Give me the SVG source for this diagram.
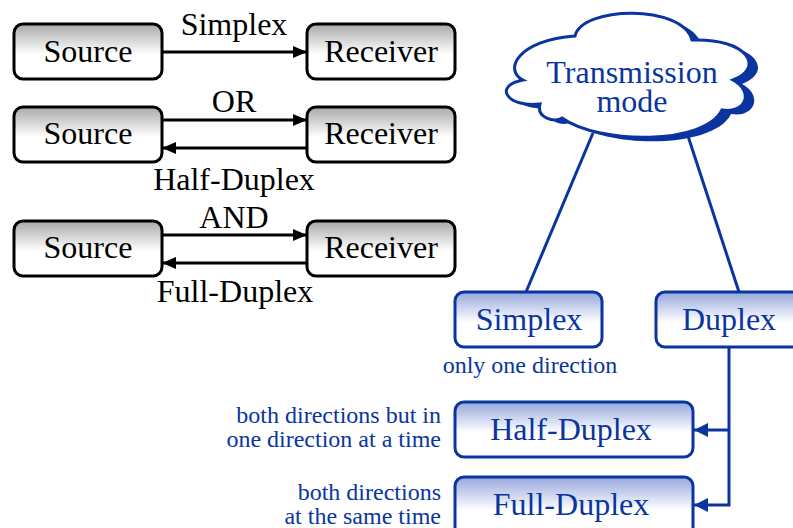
<svg xmlns="http://www.w3.org/2000/svg" width="793" height="528" viewBox="0 0 793 528">
  <defs>
    <linearGradient id="gGrey" x1="0" y1="0" x2="0" y2="1">
      <stop offset="0" stop-color="#a9a9a9"/>
      <stop offset="0.55" stop-color="#ffffff"/>
      <stop offset="1" stop-color="#ffffff"/>
    </linearGradient>
    <linearGradient id="gBlue" x1="0" y1="0" x2="0" y2="1">
      <stop offset="0" stop-color="#95a6dc"/>
      <stop offset="0.55" stop-color="#ffffff"/>
      <stop offset="1" stop-color="#ffffff"/>
    </linearGradient>
    <marker id="arrK" viewBox="0 0 14 12" refX="14" refY="6" markerWidth="14" markerHeight="12" markerUnits="userSpaceOnUse" orient="auto">
      <path d="M0,0 L14,6 L0,12 Z" fill="#000"/>
    </marker>
    <marker id="arrB" viewBox="0 0 14 14" refX="14" refY="7" markerWidth="14" markerHeight="14" markerUnits="userSpaceOnUse" orient="auto">
      <path d="M0,0 L14,7 L0,14 Z" fill="#0a35a0"/>
    </marker>
    <path id="cloud" d="M 523,80 C 503,70 518,40 575,36 C 582,6 682,4 692,40 C 748,38 765,68 733,80 C 755,92 745,114 722,110 C 705,145 600,145 562,118 C 555,123 536,118 540,104 C 508,108 492,86 523,80 Z"/>
  </defs>
  <style>
    .bk { fill: url(#gGrey); stroke: #000; stroke-width: 3; }
    .bl { fill: url(#gBlue); stroke: #0a35a0; stroke-width: 3; }
    text { font-family: "Liberation Serif", "DejaVu Serif", "Times New Roman", serif; }
    .tk { font-size: 32px; fill: #000; text-anchor: middle; }
    .tb { font-size: 32px; fill: #0a35a0; text-anchor: middle; }
    .ts { font-size: 24px; fill: #0a35a0; }
    .ck { stroke: #000; stroke-width: 3; fill: none; }
    .cb { stroke: #0a35a0; stroke-width: 3; fill: none; }
  </style>

  <rect width="793" height="528" fill="#fff"/>

  <!-- connectors -->
  <g id="connectors">
    <line class="ck" x1="162" y1="52" x2="307" y2="52" marker-end="url(#arrK)"/>
    <line class="ck" x1="162" y1="120" x2="307" y2="120" marker-end="url(#arrK)"/>
    <line class="ck" x1="307" y1="148" x2="162" y2="148" marker-end="url(#arrK)"/>
    <line class="ck" x1="162" y1="235" x2="307" y2="235" marker-end="url(#arrK)"/>
    <line class="ck" x1="307" y1="263" x2="162" y2="263" marker-end="url(#arrK)"/>
    <line class="cb" x1="593" y1="133" x2="526" y2="292"/>
    <line class="cb" x1="687" y1="133" x2="739" y2="292"/>
    <polyline class="cb" points="729,347 729,505 694,505" marker-end="url(#arrB)"/>
    <line class="cb" x1="729" y1="430" x2="694" y2="430" marker-end="url(#arrB)"/>
  </g>

  <!-- left panel: link types -->
  <g id="src1"><rect class="bk" x="14" y="24" width="148" height="55" rx="9"/><text class="tk" x="88" y="62">Source</text></g>
  <g id="rcv1"><rect class="bk" x="307" y="24" width="148" height="55" rx="9"/><text class="tk" x="381" y="62">Receiver</text></g>
  <g id="src2"><rect class="bk" x="14" y="107" width="148" height="55" rx="9"/><text class="tk" x="88" y="144">Source</text></g>
  <g id="rcv2"><rect class="bk" x="307" y="107" width="148" height="55" rx="9"/><text class="tk" x="381" y="144">Receiver</text></g>
  <g id="src3"><rect class="bk" x="14" y="221" width="148" height="55" rx="9"/><text class="tk" x="88" y="258">Source</text></g>
  <g id="rcv3"><rect class="bk" x="307" y="221" width="148" height="55" rx="9"/><text class="tk" x="381" y="258">Receiver</text></g>

  <g id="labels">
    <text class="tk" x="234" y="35">Simplex</text>
    <text class="tk" x="234" y="112">OR</text>
    <text class="tk" x="234" y="190">Half-Duplex</text>
    <text class="tk" x="234" y="228">AND</text>
    <text class="tk" x="235" y="302">Full-Duplex</text>
  </g>

  <!-- right panel: mode tree -->
  <g id="mode">
    <use href="#cloud" transform="translate(9,4)" fill="#0a35a0"/>
    <use href="#cloud" fill="#fff" stroke="#0a35a0" stroke-width="3"/>
    <text class="tb" x="632" y="83" font-size="30">Transmission</text>
    <text class="tb" x="632" y="112" font-size="30">mode</text>
  </g>
  <g id="simplex"><rect class="bl" x="455" y="292" width="147" height="55" rx="9"/><text class="tb" x="529" y="330">Simplex</text></g>
  <g id="duplex"><rect class="bl" x="656" y="292" width="150" height="55" rx="9"/><text class="tb" x="729" y="330">Duplex</text></g>
  <g id="half"><rect class="bl" x="455" y="402" width="238" height="55" rx="9"/><text class="tb" x="571" y="440">Half-Duplex</text></g>
  <g id="full"><rect class="bl" x="455" y="477" width="238" height="60" rx="9"/><text class="tb" x="571" y="515">Full-Duplex</text></g>

  <g id="notes">
    <text class="ts" x="530" y="373" text-anchor="middle">only one direction</text>
    <text class="ts" x="441" y="423" text-anchor="end">both directions but in</text>
    <text class="ts" x="441" y="447" text-anchor="end">one direction at a time</text>
    <text class="ts" x="441" y="500" text-anchor="end">both directions</text>
    <text class="ts" x="441" y="524" text-anchor="end">at the same time</text>
  </g>
</svg>
